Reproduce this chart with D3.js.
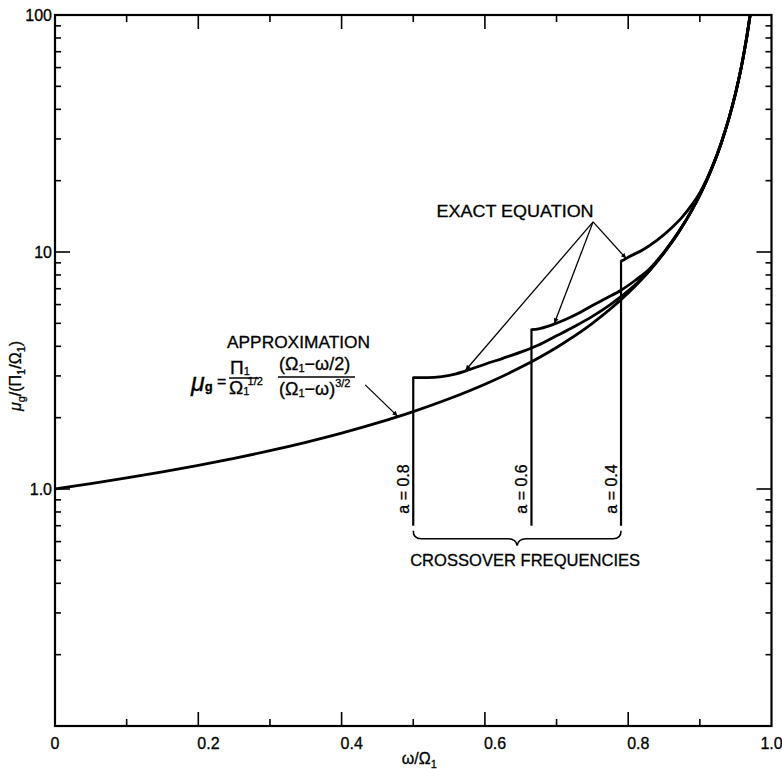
<!DOCTYPE html>
<html><head><meta charset="utf-8">
<script src="https://cdn.jsdelivr.net/npm/d3@7"></script>
<style>
body{margin:0;background:#fff}
svg{display:block;background:#fff}
text{font-family:"Liberation Sans",Arial,sans-serif;fill:#000;stroke:#000;stroke-width:0.3px}
</style>
</head><body>
<svg id="chart" width="782" height="769"></svg>
<script>
// ---------------- data ----------------
const xTickLabels = ["0", "0.2", "0.4", "0.6", "0.8", "1.0"];
const yTickLabels = ["1.0", "10", "100"];
const yTickLabelValues = [1, 10, 100];

// approximation curve  mu_g / (Pi1/Omega1)
const approxOmega = [0, 0.05, 0.1, 0.15, 0.2, 0.25, 0.3, 0.35, 0.4, 0.45, 0.5, 0.55, 0.6, 0.65, 0.7, 0.75, 0.8, 0.83, 0.85, 0.87, 0.88, 0.89, 0.9, 0.91, 0.92, 0.93, 0.94, 0.95, 0.955, 0.96, 0.965, 0.97, 0.9705];
const approxMu    = [1.0, 1.053, 1.113, 1.18, 1.258, 1.347, 1.451, 1.574, 1.721, 1.9, 2.121, 2.402, 2.767, 3.26, 3.956, 5.0, 6.71, 8.35, 9.9, 12.05, 13.47, 15.21, 17.39, 20.19, 23.86, 28.89, 36.06, 46.96, 54.7, 65.0, 79.0, 99.1, 101.6];

// exact equation, a = 0.8
const exact08Omega = [0.5, 0.52, 0.54, 0.56, 0.58, 0.6, 0.625, 0.65, 0.675, 0.7, 0.725, 0.75, 0.775, 0.8, 0.825, 0.85, 0.87, 0.89, 0.91, 0.93, 0.95, 0.96, 0.97, 0.9705];
const exact08Mu    = [2.95, 2.95, 2.98, 3.06, 3.2, 3.36, 3.56, 3.78, 4.05, 4.43, 4.85, 5.35, 6.0, 6.85, 8.05, 9.95, 12.1, 15.25, 20.2, 28.9, 47.0, 65.0, 99.1, 101.6];

// exact equation, a = 0.6
const exact06Omega = [0.665, 0.675, 0.69, 0.71, 0.73, 0.75, 0.77, 0.79, 0.81, 0.83, 0.85, 0.87, 0.89, 0.91, 0.93, 0.95, 0.96, 0.97, 0.9705];
const exact06Mu    = [4.7, 4.74, 4.88, 5.15, 5.5, 5.95, 6.4, 6.9, 7.6, 8.5, 10.0, 12.1, 15.25, 20.2, 28.9, 47.0, 65.0, 99.1, 101.6];

// exact equation, a = 0.4
const exact04Omega = [0.79, 0.795, 0.8, 0.82, 0.84, 0.86, 0.875, 0.89, 0.9, 0.91, 0.92, 0.93, 0.95, 0.96, 0.97, 0.9705];
const exact04Mu    = [9.15, 9.3, 9.5, 10.2, 11.2, 12.6, 14.0, 16.0, 17.8, 20.4, 24.0, 28.9, 47.0, 65.0, 99.1, 101.6];

// crossover frequencies
const crossoverLabels = ["a = 0.8", "a = 0.6", "a = 0.4"];
const crossoverOmega  = [0.5, 0.665, 0.79];
const crossoverBottomMu = [0.70, 0.70, 0.70];

// arrow targets (points on curves)
const exactArrowFrom = [0.751, 13.4];
const exactArrowTo   = [[0.573, 3.17], [0.697, 5.0], [0.797, 9.4]];
const approxArrowFrom = [0.433, 2.75];
const approxArrowTo   = [0.478, 2.03];

// ---------------- layout ----------------
const W = 782, H = 769;
const L = 55, R = 771.5, T = 15, B = 726;
const svg = d3.select("#chart");
const x = d3.scaleLinear().domain([0, 1]).range([L, R]);
const y = d3.scaleLog().domain([0.1, 100]).range([B, T]);

svg.append("rect").attr("width", W).attr("height", H).attr("fill", "#fff");

const defs = svg.append("defs");
defs.append("clipPath").attr("id", "plotclip").append("rect")
  .attr("x", L).attr("y", T).attr("width", R - L).attr("height", B - T);
defs.append("marker").attr("id", "ah").attr("viewBox", "0 0 10 10")
  .attr("refX", 10).attr("refY", 5).attr("markerWidth", 10).attr("markerHeight", 5)
  .attr("markerUnits", "userSpaceOnUse").attr("orient", "auto")
  .append("path").attr("d", "M0,0L10,5L0,10z").attr("fill", "#000");

// ---------------- axes ----------------
const axisStroke = 2.2;
const xt = x.ticks(10);
const gx = svg.append("g");
xt.forEach((v, i) => {
  const major = i % 2 === 0;
  const len = major ? 14 : 7;
  if (v > 0 && v < 1) {
    gx.append("line").attr("x1", x(v)).attr("x2", x(v)).attr("y1", B).attr("y2", B - len)
      .attr("stroke", "#000").attr("stroke-width", 1.6);
    gx.append("line").attr("x1", x(v)).attr("x2", x(v)).attr("y1", T).attr("y2", T + len)
      .attr("stroke", "#000").attr("stroke-width", 1.6);
  }
});
xTickLabels.forEach((lab, i) => {
  const v = i * 0.2;
  const inner = i > 0 && i < xTickLabels.length - 1;
  svg.append("text").attr("x", inner ? x(v) - 1 : x(v)).attr("y", B + 23)
    .attr("text-anchor", inner ? "start" : "middle")
    .attr("font-size", 16).text(lab);
});

const gy = svg.append("g");
y.ticks().forEach(v => {
  const lg = Math.log10(v);
  const major = Math.abs(lg - Math.round(lg)) < 1e-9;
  if (v <= 0.1 + 1e-9 || v >= 100 - 1e-9) return;
  const len = major ? 15 : 6;
  gy.append("line").attr("x1", L).attr("x2", L + len).attr("y1", y(v)).attr("y2", y(v))
    .attr("stroke", "#000").attr("stroke-width", 1.6);
  gy.append("line").attr("x1", R).attr("x2", R - len).attr("y1", y(v)).attr("y2", y(v))
    .attr("stroke", "#000").attr("stroke-width", 1.6);
});
yTickLabels.forEach((lab, i) => {
  svg.append("text").attr("x", L - 3).attr("y", y(yTickLabelValues[i]) + 6)
    .attr("text-anchor", "end").attr("font-size", 16).text(lab);
});

svg.append("rect").attr("x", L).attr("y", T).attr("width", R - L).attr("height", B - T)
  .attr("fill", "none").attr("stroke", "#000").attr("stroke-width", axisStroke);

// axis titles
const xt1 = svg.append("text").attr("x", (L + R) / 2 + 6).attr("y", 764)
  .attr("text-anchor", "middle").attr("font-size", 16);
xt1.append("tspan").text("ω/Ω");
xt1.append("tspan").attr("font-size", 11).attr("dy", 4).text("1");

const yt = svg.append("text").attr("transform", "translate(21,376) rotate(-90)")
  .attr("text-anchor", "middle").attr("font-size", 16);
yt.append("tspan").attr("font-style", "italic").text("μ");
yt.append("tspan").attr("font-size", 11).attr("dy", 4).text("g");
yt.append("tspan").attr("dy", -4).text("/(Π");
yt.append("tspan").attr("font-size", 11).attr("dy", 4).text("1");
yt.append("tspan").attr("dy", -4).text("/Ω");
yt.append("tspan").attr("font-size", 11).attr("dy", 4).text("1");
yt.append("tspan").attr("dy", -4).text(")");

// ---------------- curves ----------------
const plot = svg.append("g").attr("clip-path", "url(#plotclip)");
const line = d3.line().x(d => x(d[0])).y(d => y(d[1])).curve(d3.curveMonotoneX);
const zip = (a, b) => a.map((v, i) => [v, b[i]]);

plot.append("path").attr("d", line(zip(approxOmega, approxMu)))
  .attr("fill", "none").attr("stroke", "#000").attr("stroke-width", 2.8).attr("stroke-linejoin", "round");
[[exact08Omega, exact08Mu], [exact06Omega, exact06Mu], [exact04Omega, exact04Mu]].forEach(([o, m]) => {
  plot.append("path").attr("d", line(zip(o, m)))
    .attr("fill", "none").attr("stroke", "#000").attr("stroke-width", 2.8).attr("stroke-linejoin", "round");
});

const starts = [exact08Mu[0], exact06Mu[0], exact04Mu[0]];
crossoverOmega.forEach((o, i) => {
  plot.append("line").attr("x1", x(o)).attr("x2", x(o))
    .attr("y1", y(crossoverBottomMu[i])).attr("y2", y(starts[i]) - 1)
    .attr("stroke", "#000").attr("stroke-width", 2.2);
  svg.append("text").attr("transform", `translate(${x(o) - 4},${y(crossoverBottomMu[i]) - 12}) rotate(-90)`)
    .attr("text-anchor", "start").attr("font-size", 16).text(crossoverLabels[i]);
});

// brace
{
  const xl = x(crossoverOmega[0]), xr = x(crossoverOmega[2]), xm = (xl + xr) / 2;
  const yb = y(crossoverBottomMu[0]);
  const h = yb + 13;
  const d = `M${xl},${yb + 5} Q${xl},${h} ${xl + 8},${h} L${xm - 9},${h} Q${xm - 1},${h} ${xm},${h + 7} Q${xm + 1},${h} ${xm + 9},${h} L${xr - 8},${h} Q${xr},${h} ${xr},${yb + 5}`;
  svg.append("path").attr("d", d).attr("fill", "none").attr("stroke", "#000").attr("stroke-width", 1.6);
  svg.append("text").attr("x", xm + 8).attr("y", h + 27).attr("text-anchor", "middle")
    .attr("font-size", 17).attr("textLength", 230).attr("lengthAdjust", "spacingAndGlyphs")
    .text("CROSSOVER FREQUENCIES");
}

// EXACT EQUATION label + arrows
svg.append("text").attr("x", x(exactArrowFrom[0]) - 78).attr("y", y(exactArrowFrom[1]) - 5)
  .attr("text-anchor", "middle").attr("font-size", 17).attr("textLength", 157)
  .attr("lengthAdjust", "spacingAndGlyphs").text("EXACT EQUATION");
exactArrowTo.forEach(p => {
  svg.append("line").attr("x1", x(exactArrowFrom[0])).attr("y1", y(exactArrowFrom[1]))
    .attr("x2", x(p[0])).attr("y2", y(p[1]))
    .attr("stroke", "#000").attr("stroke-width", 1.3).attr("marker-end", "url(#ah)");
});

// APPROXIMATION label, formula, arrow
{
  svg.append("text").attr("x", 227).attr("y", 348).attr("font-size", 17)
    .attr("textLength", 143).attr("lengthAdjust", "spacingAndGlyphs").text("APPROXIMATION");
  const t1 = svg.append("text").attr("x", 191).attr("y", 391).attr("font-size", 25).attr("font-style", "italic");
  t1.append("tspan").text("μ");
  t1.append("tspan").attr("font-size", 13).attr("dy", 0).attr("font-style", "normal").attr("font-weight", "bold").text("g");
  svg.append("text").attr("x", 217).attr("y", 387).attr("font-size", 16).text("=");
  const n1 = svg.append("text").attr("x", 230).attr("y", 374).attr("font-size", 19);
  n1.append("tspan").text("Π");
  n1.append("tspan").attr("font-size", 11).attr("dy", 1).text("1");
  svg.append("line").attr("x1", 229).attr("x2", 258).attr("y1", 378).attr("y2", 378)
    .attr("stroke", "#000").attr("stroke-width", 1.5);
  const d1 = svg.append("text").attr("x", 229).attr("y", 394).attr("font-size", 19);
  d1.append("tspan").text("Ω");
  d1.append("tspan").attr("font-size", 11).attr("dy", 1).text("1");
  d1.append("tspan").attr("font-size", 11).attr("dy", -10).attr("dx", -1).text("1/2");
  const n2 = svg.append("text").attr("x", 279).attr("y", 370).attr("font-size", 18);
  n2.append("tspan").text("(Ω");
  n2.append("tspan").attr("font-size", 11).attr("dy", 2).text("1");
  n2.append("tspan").attr("dy", -2).text("−ω/2)");
  svg.append("line").attr("x1", 278).attr("x2", 355).attr("y1", 377).attr("y2", 377)
    .attr("stroke", "#000").attr("stroke-width", 1.5);
  const d2 = svg.append("text").attr("x", 279).attr("y", 395).attr("font-size", 18);
  d2.append("tspan").text("(Ω");
  d2.append("tspan").attr("font-size", 11).attr("dy", 2).text("1");
  d2.append("tspan").attr("dy", -2).text("−ω)");
  d2.append("tspan").attr("font-size", 11).attr("dy", -8).text("3/2");

  svg.append("line").attr("x1", x(approxArrowFrom[0])).attr("y1", y(approxArrowFrom[1]))
    .attr("x2", x(approxArrowTo[0])).attr("y2", y(approxArrowTo[1]))
    .attr("stroke", "#000").attr("stroke-width", 1.3).attr("marker-end", "url(#ah)");
}
</script>
</body></html>
